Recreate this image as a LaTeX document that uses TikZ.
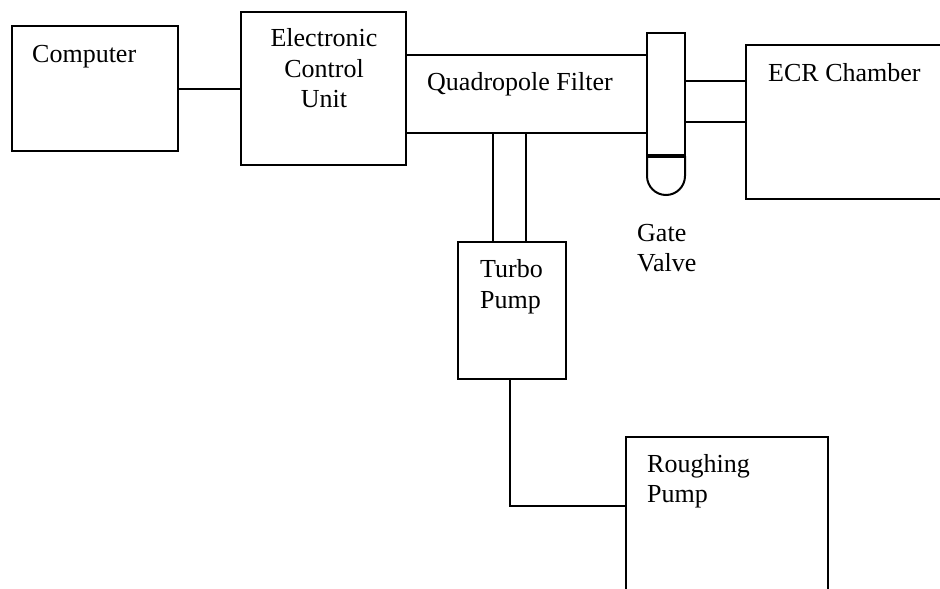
\documentclass[tikz,border=0pt]{standalone}
\usepackage{fontspec}
\setmainfont{Liberation Serif}
\begin{document}
\begin{tikzpicture}[x=1pt,y=-1pt,
  box/.style={draw, line width=2pt, rectangle, inner sep=0pt, outer sep=0pt, anchor=north west},
  ln/.style={line width=2pt},
  lbl/.style={inner sep=0pt, anchor=base west, font=\fontsize{26}{31}\selectfont},
  lblc/.style={inner sep=0pt, anchor=base, font=\fontsize{26}{31}\selectfont}]
\useasboundingbox (0,0) rectangle (940,589);
\clip (0,0) rectangle (940,589);
\fill[white] (0,0) rectangle (940,589);
% boxes
\node[box, minimum width=166pt, minimum height=125pt] (comp) at (12,26) {};
\node[box, minimum width=165pt, minimum height=153pt] (ecu) at (241,12) {};
\node[box, minimum width=38pt, minimum height=123pt] (gate) at (647,33) {};
\node[box, minimum width=260pt, minimum height=154pt] (ecr) at (746,45) {};
\node[box, minimum width=108pt, minimum height=137pt] (turbo) at (458,242) {};
\node[box, minimum width=202pt, minimum height=220pt] (rough) at (626,437) {};
\node[inner sep=0pt, outer sep=0pt, anchor=north west, minimum width=241pt, minimum height=78pt] (quad) at (406,55) {};
% labels
\node[lbl] (tcomp) at (32,62) {Computer};
\node[lblc] (tecu1) at (324,46) {Electronic};
\node[lblc] (tecu2) at (324,77) {Control};
\node[lblc] (tecu3) at (324,107) {Unit};
\node[lbl] (tquad) at (427,90) {Quadropole Filter};
\node[lbl] (tecr) at (768,81) {ECR Chamber};
\node[lbl] (tturbo1) at (480,277) {Turbo};
\node[lbl] (tturbo2) at (480,308) {Pump};
\node[lbl] (tgate1) at (637,241) {Gate};
\node[lbl] (tgate2) at (637,271) {Valve};
\node[lbl] (trough1) at (647,472) {Roughing};
\node[lbl] (trough2) at (647,502) {Pump};
% connectors
\draw[ln] (comp) -- (ecu);
\draw[ln] (quad.north west) -- (quad.north east);
\draw[ln] (quad.south west) -- (quad.south east);
\coordinate (p1) at (493,133);
\coordinate (p2) at (526,133);
\draw[ln] (p1) -- (p1 |- turbo.north);
\draw[ln] (p2) -- (p2 |- turbo.north);
\coordinate (e1) at (685,81);
\coordinate (e2) at (685,122);
\draw[ln] (e1) -- (e1 -| ecr.west);
\draw[ln] (e2) -- (e2 -| ecr.west);
\coordinate (tb) at (510,379);
\coordinate (rl) at (626,506);
\draw[ln] (tb) |- (rl);
% gate valve bottom
\draw[ln] (gate.south west) -- ++(0,20) arc[start angle=180, end angle=360, radius=19pt] -- (gate.south east);
\draw[line width=4pt] (gate.south west) -- (gate.south east);
\end{tikzpicture}
\end{document}
